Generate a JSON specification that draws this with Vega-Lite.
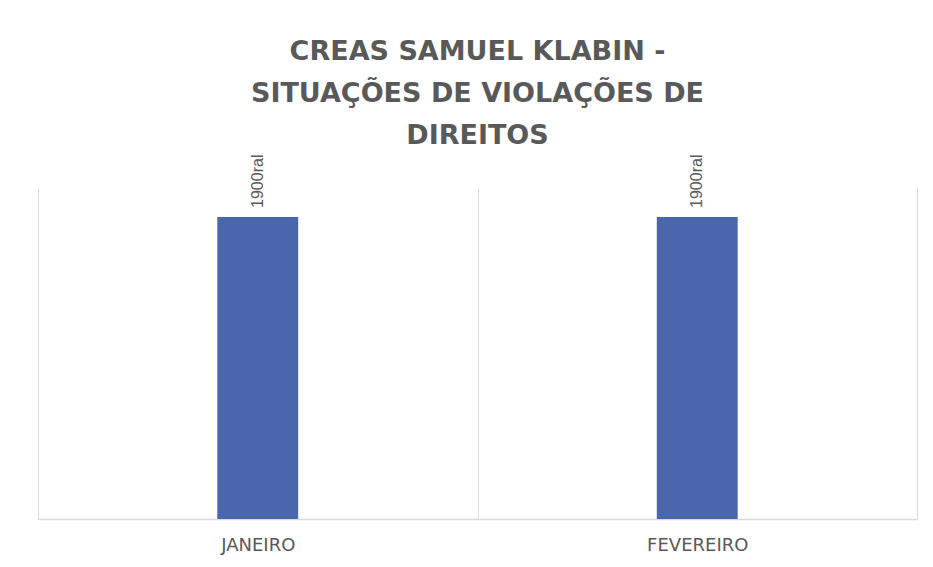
{
  "$schema": "https://vega.github.io/schema/vega-lite/v6.json",
  "width": 879,
  "height": 331,
  "autosize": {"type": "none"},
  "padding": {"left": 38, "top": 188, "right": 16, "bottom": 48},
  "background": "white",
  "config": {"view": {"stroke": null}},
  "title": {
    "text": ["CREAS SAMUEL KLABIN -", "SITUAÇÕES DE VIOLAÇÕES DE", "DIREITOS"],
    "font": "DejaVu Sans",
    "fontSize": 27,
    "fontWeight": "bold",
    "color": "#595959",
    "lineHeight": 42,
    "anchor": "middle",
    "offset": 5
  },
  "data": {"values": [
    {"mes": "JANEIRO", "valor": 1900, "rotulo": "1900ral"},
    {"mes": "FEVEREIRO", "valor": 1900, "rotulo": "1900ral"}
  ]},
  "encoding": {
    "x": {
      "field": "mes", "type": "nominal", "sort": null,
      "scale": {"paddingInner": 0, "paddingOuter": 0},
      "axis": {
        "title": null, "labelAngle": 0, "tickBand": "extent",
        "grid": true, "gridColor": "#d9d9d9", "gridWidth": 1,
        "ticks": false, "domainColor": "#d9d9d9", "domainWidth": 1.5,
        "labelFont": "DejaVu Sans", "labelFontSize": 18, "labelColor": "#595959",
        "labelPadding": 17
      }
    },
    "y": {
      "field": "valor", "type": "quantitative",
      "scale": {"domain": [0, 2082]},
      "axis": null
    }
  },
  "layer": [
    {"mark": {"type": "bar", "color": "#4A66AC", "width": {"band": 0.184}}},
    {
      "mark": {"type": "text", "angle": -90, "align": "left", "baseline": "middle", "dx": 9,
               "font": "Liberation Sans", "fontSize": 16, "color": "#595959"},
      "encoding": {"text": {"field": "rotulo"}}
    }
  ]
}
